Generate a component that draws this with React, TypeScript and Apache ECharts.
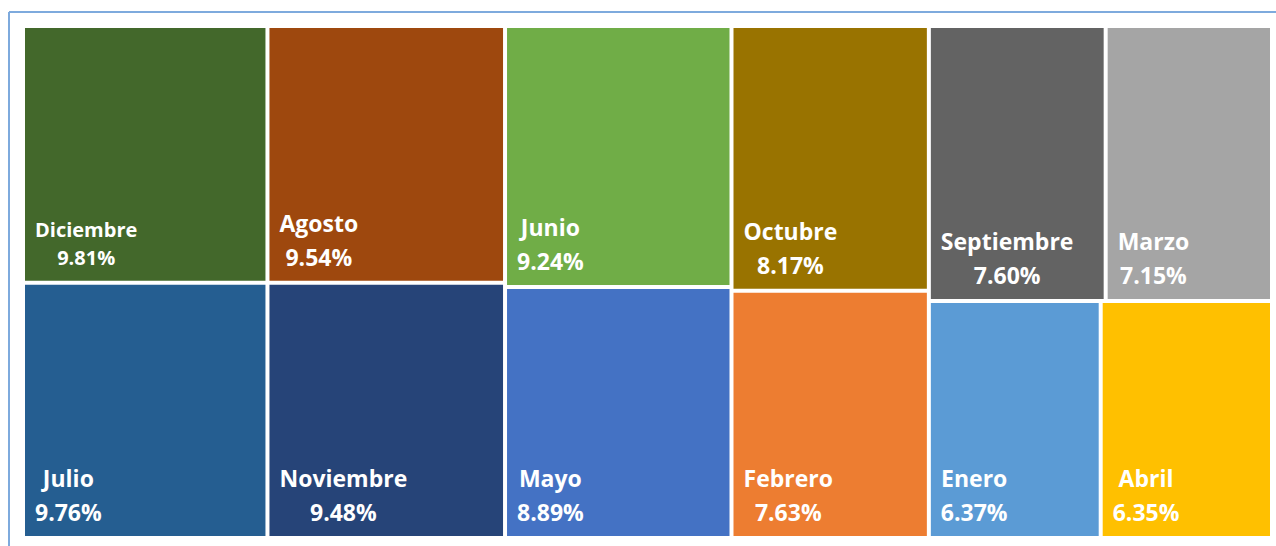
import React, { useEffect, useRef } from "react";
import * as echarts from "echarts";

// Months and their share (%)
const months = [
  "Diciembre", "Julio", "Agosto", "Noviembre", "Junio", "Mayo",
  "Octubre", "Febrero", "Septiembre", "Marzo", "Enero", "Abril",
];
const shares = [9.81, 9.76, 9.54, 9.48, 9.24, 8.89, 8.17, 7.63, 7.6, 7.15, 6.37, 6.35];
const colors = [
  "#43682B", "#255E91", "#9E480E", "#264478", "#70AD47", "#4472C4",
  "#997300", "#ED7D31", "#636363", "#A5A5A5", "#5B9BD5", "#FFC000",
];
const smallLabelMonths = ["Diciembre"];

const FONT = "'Open Sans', 'Noto Sans', sans-serif";
const BIG = { size: 23, lh: 34, bottom: 75 };
const SMALL = { size: 20, lh: 28, bottom: 65 };

let measureCtx: CanvasRenderingContext2D | null = null;
function measure(text: string, size: number): number {
  if (!measureCtx) measureCtx = document.createElement("canvas").getContext("2d");
  if (!measureCtx) return text.length * size * 0.6;
  measureCtx.font = `bold ${size}px ${FONT}`;
  return measureCtx.measureText(text).width;
}

export default function App() {
  const ref = useRef<HTMLDivElement>(null);

  useEffect(() => {
    if (!ref.current) return;
    const chart = echarts.init(ref.current, undefined, { renderer: "svg" });

    const data = months.map((m, i) => ({
      name: m,
      value: shares[i],
      itemStyle: { color: colors[i] },
    }));

    const tok = (size: number, lh: number) => ({
      align: "center",
      fontSize: size,
      lineHeight: lh,
      color: "#ffffff",
      fontWeight: "bold",
      fontFamily: FONT,
    });

    chart.setOption({
      animation: false,
      backgroundColor: "#ffffff",
      graphic: [
        {
          type: "line",
          shape: { x1: 9, y1: 12, x2: 1276, y2: 12 },
          style: { stroke: "#7EAADD", lineWidth: 2 },
        },
        {
          type: "line",
          shape: { x1: 9, y1: 12, x2: 9, y2: 546 },
          style: { stroke: "#7EAADD", lineWidth: 2 },
        },
      ],
      series: [
        {
          type: "treemap",
          left: 25,
          top: 28,
          width: 1245,
          height: 508,
          roam: false,
          nodeClick: false,
          squareRatio: 1,
          sort: "desc",
          breadcrumb: { show: false },
          itemStyle: { gapWidth: 4, borderWidth: 0 },
          levels: [
            { itemStyle: { gapWidth: 4, borderWidth: 0 } },
            { itemStyle: { borderWidth: 0, gapWidth: 0 } },
          ],
          label: {
            show: true,
            position: "insideTopLeft",
            distance: 0,
            padding: 0,
            color: "#ffffff",
            fontFamily: FONT,
            fontWeight: "bold",
            formatter: (p: any) => {
              const small = smallLabelMonths.includes(p.name);
              const v = Number(p.value).toFixed(2) + "%";
              return small
                ? `{ns|${p.name}}\n{vs|${v}}`
                : `{n|${p.name}}\n{v|${v}}`;
            },
            rich: {
              n: tok(BIG.size, BIG.lh),
              v: tok(BIG.size, BIG.lh),
              ns: tok(SMALL.size, SMALL.lh),
              vs: tok(SMALL.size, SMALL.lh),
            },
          },
          labelLayout: (p: any) => {
            const text: string = p.text || "";
            const small = text.startsWith("{ns|");
            const cfg = small ? SMALL : BIG;
            const lines = text
              .split("\n")
              .map((s) => s.replace(/^\{\w+\|/, "").replace(/\}$/, ""));
            const blockW = Math.max(...lines.map((l) => measure(l, cfg.size)));
            const r = p.rect;
            return {
              dx: 10 + blockW / 2 - r.width / 2,
              dy: r.height - cfg.bottom,
            };
          },
          upperLabel: { show: false },
          data,
        },
      ],
    });

    return () => chart.dispose();
  }, []);

  return (
    <div
      ref={ref}
      style={{ position: "absolute", left: 0, top: 0, width: 1276, height: 546 }}
    />
  );
}
